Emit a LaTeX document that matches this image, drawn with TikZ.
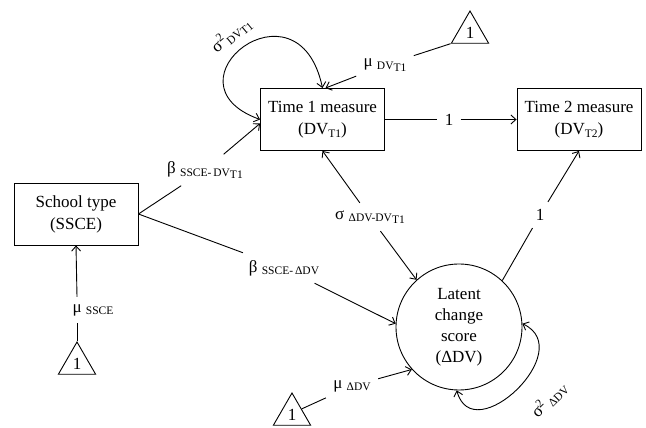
\documentclass[tikz,border=0pt]{standalone}
\usepackage{fontspec}
\setmainfont{Liberation Serif}
\usetikzlibrary{arrows.meta,shapes.geometric,calc}
\newcommand{\lowsub}[1]{\raisebox{-0.35ex}{\fontsize{11.5}{12}\selectfont #1}}

\begin{document}
\begin{tikzpicture}[x=1pt,y=1pt,line width=0.9pt,
  >={Straight Barb[length=5pt,width=9pt]},
  varbox/.style={draw,minimum width=124pt,minimum height=62pt,align=center,
    font=\fontsize{17}{22}\selectfont},
  latent/.style={draw,circle,minimum size=126pt,inner sep=0pt,align=center,
    font=\fontsize{17}{21}\selectfont},
  const/.style={draw,regular polygon,regular polygon sides=3,minimum size=43pt,
    inner sep=0pt,font=\fontsize{17}{17}\selectfont},
  lab/.style={inner sep=7pt,font=\fontsize{17}{17}\selectfont}]
  \useasboundingbox (0,0) rectangle (646,428);
  % Observed variables
  \node[varbox] (school) at (76,214) {School type\\(SSCE)};
  \node[varbox] (t1) at (322.5,308.5) {Time 1 measure\\(DV\lowsub{T1})};
  \node[varbox] (t2) at (579,308.5) {Time 2 measure\\(DV\lowsub{T2})};
  % Latent change score
  \node[latent] (lcs) at (459,101) {Latent\\change\\score\\(ΔDV)};
  % Constants
  \node[const] (oneS) at (77,64.5) {1};
  \node[const] (oneD) at (292,13.5) {1};
  \node[const] (oneT) at (470,395.5) {1};
  % Path labels
  \node[lab] (bT1) at (205,258) {β \lowsub{SSCE-\,DV\lowsub{T1}}};
  \node[lab] (bD) at (284,160) {β \lowsub{SSCE-\,ΔDV}};
  \node[lab] (sig) at (370,211) {σ \lowsub{ΔDV-DV\lowsub{T1}}};
  \node[lab] (w12) at (449,308.5) {1};
  \node[lab] (wD2) at (540,213) {1};
  \node[lab] (muS) at (93,118) {μ \lowsub{SSCE}};
  \node[lab] (muD) at (352,42) {μ \lowsub{ΔDV}};
  \node[lab] (muT) at (385,363) {μ \lowsub{DV\lowsub{T1}}};
  \node[lab,inner sep=2pt,rotate=40] (vT) at (231,393) {σ\textsuperscript{2}\lowsub{DV\lowsub{T1}}};
  \node[lab,inner sep=2pt,rotate=45] (vD) at (549,28) {σ\textsuperscript{2}\,\lowsub{ΔDV}};
  % Regressions
  \draw (school.east) -- (bT1);
  \draw[->] (bT1) -- ([yshift=-4pt]t1.west);
  \draw (school.east) -- (bD);
  \draw[->] (bD) -- (lcs.177);
  % Covariance
  \draw[->] (sig) -- (t1.south);
  \draw[->] (sig) -- (lcs.132);
  % Fixed loadings
  \draw (t1.east) -- (w12);
  \draw[->] (w12) -- (t2.west);
  \draw (lcs.47) -- (wD2);
  \draw[->] (wD2) -- (t2.south);
  % Means
  \draw (oneS.corner 1) -- (oneS.corner 1 |- muS.south);
  \draw[->] (oneS.corner 1 |- muS.north) -- (school.south);
  \draw (oneD.side 3) -- (muD);
  \draw[->] (muD) -- (lcs.222);
  \draw (oneT.corner 2) -- (muT);
  \draw[->] (muT) -- ([xshift=3pt]t1.north);
  % Variances
  \draw[<->] (t1.north) .. controls +(102:118) and +(160:108) .. (t1.west);
  \draw[<->] (lcs.268) to[out=-75,in=-25,looseness=1.7] (lcs.3);
\end{tikzpicture}
\end{document}
